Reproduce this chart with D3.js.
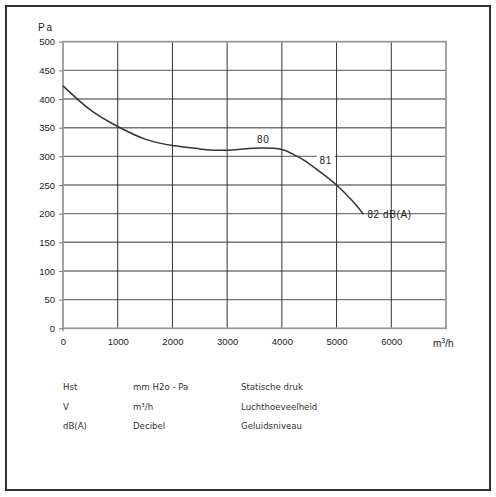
<!DOCTYPE html>
<html>
<head>
<meta charset="utf-8">
<script src="https://cdn.jsdelivr.net/npm/d3@7"></script>
<style>
body { margin:0; background:#fff; }
text { font-family: "Liberation Sans", Arial, sans-serif; fill:#222; }
.leg text { font-family: "DejaVu Sans", Verdana, sans-serif; font-size:8.6px; fill:#333; }
</style>
</head>
<body>
<svg id="chart" width="496" height="497"></svg>
<script>
// fan curve, flow in m3/h against static pressure in Pa
var flow     = [0, 500, 1000, 1500, 2000, 2500, 2800, 3200, 3600, 4000, 4200, 4400, 4700, 5000, 5300, 5490];
var pressure = [423, 381, 352, 330, 319, 313, 310.5, 312, 314.5, 312, 304, 293.5, 273, 250, 221, 199];
var xTicks = [0, 1000, 2000, 3000, 4000, 5000, 6000];
var yTicks = [0, 50, 100, 150, 200, 250, 300, 350, 400, 450, 500];
// sound level marks along the curve
var dbFlow  = [3660, 4800, 5490];
var dbPress = [330, 292, 199];
var dbText  = ["80", "81", "82 dB(A)"];
// legend rows
var legSym  = ["Hst", "V", "dB(A)"];
var legUnit = ["mm H2o - Pa", "m\u00b3/h", "Decibel"];
var legName = ["Statische druk", "Luchthoeveelheid", "Geluidsniveau"];

var svg = d3.select("#chart");
var x = d3.scaleLinear().domain([0, 7000]).range([63, 446]),
    y = d3.scaleLinear().domain([0, 500]).range([328.3, 41.7]);

// outer frame
svg.append("rect").attr("x", 6).attr("y", 6).attr("width", 484).attr("height", 484)
    .attr("fill", "none").attr("stroke", "#333").attr("stroke-width", 2);

var grid = svg.append("g");
grid.selectAll("line.h").data(yTicks.filter(v => v > 0 && v < 500)).enter().append("line")
    .attr("x1", x(0)).attr("x2", x(7000))
    .attr("y1", d => y(d)).attr("y2", d => y(d))
    .attr("stroke", "#777").attr("stroke-width", 1.4);
grid.selectAll("line.v").data(xTicks.filter(v => v > 0)).enter().append("line")
    .attr("x1", d => x(d)).attr("x2", d => x(d))
    .attr("y1", y(0)).attr("y2", y(500))
    .attr("stroke", "#333").attr("stroke-width", 1);
grid.append("rect").attr("x", x(0)).attr("y", y(500))
    .attr("width", x(7000) - x(0)).attr("height", y(0) - y(500))
    .attr("fill", "none").attr("stroke", "#999").attr("stroke-width", 1.8);

var yAxis = svg.append("g").attr("transform", "translate(" + x(0) + ",0)")
    .call(d3.axisLeft(y).tickValues(yTicks).tickSize(4).tickPadding(4));
var xAxis = svg.append("g").attr("transform", "translate(0," + y(0) + ")")
    .call(d3.axisBottom(x).tickValues(xTicks).tickFormat(d3.format("d")).tickSize(0).tickPadding(10));
[yAxis, xAxis].forEach(function (a) {
    a.select(".domain").remove();
    a.selectAll("line").attr("stroke", "#777");
    a.selectAll("text").style("font-size", "9.5px").attr("fill", "#222");
});
xAxis.selectAll(".tick line").remove();
svg.append("line").attr("x1", x(0)).attr("x2", x(0)).attr("y1", y(0)).attr("y2", y(0) + 3)
    .attr("stroke", "#777");

svg.append("text").attr("x", 46).attr("y", 31).attr("text-anchor", "middle")
    .style("font-size", "10px").style("letter-spacing", "2px").text("Pa");
var unit = svg.append("text").attr("x", 433).attr("y", 347).style("font-size", "10px");
unit.append("tspan").text("m");
unit.append("tspan").attr("dy", -4).style("font-size", "7px").text("3");
unit.append("tspan").attr("dy", 4).text("/h");

var line = d3.line().x(d => x(d[0])).y(d => y(d[1])).curve(d3.curveNatural);
svg.append("path").datum(flow.map((f, i) => [f, pressure[i]]))
    .attr("fill", "none").attr("stroke", "#333").attr("stroke-width", 1.5)
    .attr("d", line);

var lab = svg.append("g").selectAll("g").data(dbText).enter().append("g")
    .attr("transform", (_, i) => "translate(" + x(dbFlow[i]) + "," + y(dbPress[i]) + ")");
lab.filter((_, i) => i < 2).append("rect")
    .attr("x", -9).attr("y", -6).attr("width", 18).attr("height", 12).attr("fill", "#fff");
lab.append("text")
    .attr("x", (_, i) => i < 2 ? 0 : 4)
    .attr("dy", "0.35em")
    .attr("text-anchor", (_, i) => i < 2 ? "middle" : "start")
    .style("font-size", "10px").style("letter-spacing", "0.6px")
    .text(d => d);

var leg = svg.append("g").attr("class", "leg");
var rows = leg.selectAll("g").data(legSym).enter().append("g")
    .attr("transform", (_, i) => "translate(0," + (390 + i * 19.7) + ")");
rows.append("text").attr("x", 63).text(d => d);
rows.append("text").attr("x", 133).text((_, i) => legUnit[i]);
rows.append("text").attr("x", 241).text((_, i) => legName[i]);
</script>
</body>
</html>
